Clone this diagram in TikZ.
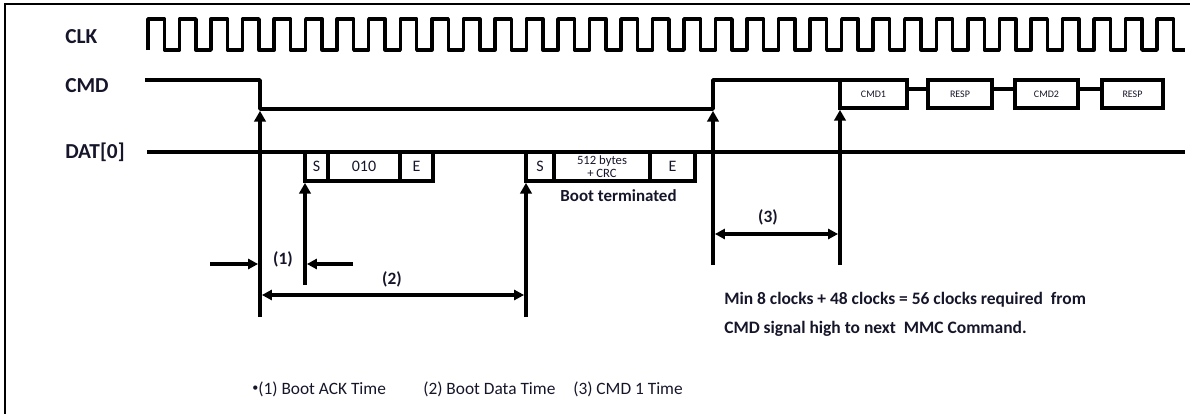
\documentclass[tikz,border=0pt]{standalone}
\usepackage{fontspec}
\setmainfont{Carlito}
\usetikzlibrary{arrows.meta}
\definecolor{ink}{HTML}{16162A}
\begin{document}
\begin{tikzpicture}[x=0.75pt,y=-0.75pt,
  sig/.style={line width=2.6pt, line join=round},
  box/.style 2 args={draw, line width=2.6pt, inner sep=0pt, outer sep=0pt, text=ink,
    minimum width=#1*0.75pt, minimum height=#2*0.75pt},
  upar/.style={line width=2.6pt, shorten >=1.4pt, -{Triangle[length=8pt,width=8.5pt]}},
  onear/.style={line width=2.6pt, shorten >=1.4pt, -{Triangle[length=7.5pt,width=7.5pt]}},
  twoar/.style={line width=2.6pt, shorten >=1.4pt, shorten <=1.4pt,
    {Triangle[length=7.5pt,width=7.5pt]}-{Triangle[length=7.5pt,width=7.5pt]}},
  lbl/.style={font=\bfseries\fontsize{16}{18}\selectfont, anchor=base west, text=ink, inner sep=0pt},
  bxt/.style={font=\fontsize{12}{13}\selectfont},
  tiny/.style={font=\fontsize{7.5}{8}\selectfont},
  note/.style={font=\bfseries\fontsize{13.1}{15}\selectfont, text=ink, inner sep=0pt},
  foot/.style={font=\fontsize{13}{15}\selectfont, text=ink, inner sep=0pt, anchor=base west},
]
\useasboundingbox (0,0) rectangle (1190,414);
% frame
\coordinate (fr1) at (5,414);
\coordinate (fr2) at (5,4);
\coordinate (fr3) at (1190,4);
\draw[line width=2.2pt] (fr1) -- (fr2) -- (fr3);

% labels
\node[lbl] (lclk) at (65,43) {CLK};
\node[lbl] (lcmd) at (65,92) {CMD};
\node[lbl] (ldat) at (65,158) {DAT[0]};

% clock
\draw[sig] (148,50) \foreach \i in {0,...,32}{
  -- ({148+\i*31.53},50) -- ({148+\i*31.53},19) -- ({164.5+\i*31.53},19) -- ({164.5+\i*31.53},50)
} -- (1185,50);

% DAT boxes
\node[box={23}{29},bxt] (s1) at (316.5,166.5) {S};
\node[box={72}{29},bxt] (d010) at (364,166.5) {010};
\node[box={33}{29},bxt] (e1) at (416.5,166.5) {E};
\node[box={28}{29},bxt] (s2) at (540,166.5) {S};
\node[box={96}{29},align=center,font=\fontsize{9.5}{10}\selectfont] (d512) at (602,166.5) {512 bytes\\+ CRC};
\node[box={45}{29},bxt] (e2) at (672.5,166.5) {E};
% DAT line
\coordinate (datA) at (147,152);
\coordinate (datB) at (1185,152);
\draw[sig] (datA) -- (datB);

% CMD boxes
\node[box={67}{28},tiny] (cmd1) at (873.5,94) {CMD1};
\node[box={64}{28},tiny] (resp1) at (960,94) {RESP};
\node[box={63}{28},tiny] (cmd2) at (1046.5,94) {CMD2};
\node[box={61}{28},tiny] (resp2) at (1132.5,94) {RESP};
\draw[sig] ([yshift=3.75pt]cmd1.east) -- ([yshift=3.75pt]resp1.west);
\draw[sig] ([yshift=3.75pt]resp1.east) -- ([yshift=3.75pt]cmd2.west);
\draw[sig] ([yshift=3.75pt]cmd2.east) -- ([yshift=3.75pt]resp2.west);

% CMD line
\coordinate (cmdA) at (145,80);
\coordinate (cmdB) at (260,80);
\coordinate (cmdC) at (260,109);
\coordinate (cmdD) at (713,109);
\coordinate (cmdE) at (713,80);
\draw[sig] (cmdA) -- (cmdB) -- (cmdC) -- (cmdD) -- (cmdE) -- (cmd1.north west);

% vertical arrows
\coordinate (v1) at (260,317);
\coordinate (v2) at (305,285);
\coordinate (v3) at (526,317);
\coordinate (v4) at (713,265);
\coordinate (v5) at (840,265);
\draw[upar] (v1) -- (cmdC);
\draw[upar] (v2) -- (s1.south west);
\draw[upar] (v3) -- (s2.south west);
\draw[upar] (v4) -- (cmdD);
\draw[upar] (v5) -- (cmd1.south west);

% dimensions
\coordinate (h1a) at (210,264);
\coordinate (h1b) at (260,264);
\coordinate (h1c) at (353,264);
\coordinate (h1d) at (305,264);
\draw[onear] (h1a) -- (h1b);
\draw[onear] (h1c) -- (h1d);
\coordinate (h2a) at (260,295);
\coordinate (h2b) at (526,295);
\draw[twoar] (h2a) -- (h2b);
\coordinate (h3a) at (713,234);
\coordinate (h3b) at (840,234);
\draw[twoar] (h3a) -- (h3b);

\node[note,anchor=base,font=\bfseries\fontsize{13}{15}\selectfont] (n1) at (283,264) {(1)};
\node[note,anchor=base,font=\bfseries\fontsize{13}{15}\selectfont] (n2) at (392,284) {(2)};
\node[note,anchor=base,font=\bfseries\fontsize{13}{15}\selectfont] (n3) at (768,222) {(3)};

\node[note,anchor=base,font=\bfseries\fontsize{12.7}{15}\selectfont] (bt) at (618.5,201) {Boot terminated};

\node[note,anchor=base west] (m1) at (724,304) {Min 8 clocks + 48 clocks = 56 clocks required\ \ from};
\node[note,anchor=base west] (m2) at (724,333) {CMD signal high to next\ \ MMC Command.};

\node[foot] (f1) at (252,394) {\raisebox{0.35ex}{\scalebox{0.7}{•}}(1) Boot ACK Time};
\node[foot] (f2) at (423,394) {(2) Boot Data Time};
\node[foot] (f3) at (573,394) {(3) CMD 1 Time};
\end{tikzpicture}
\end{document}
